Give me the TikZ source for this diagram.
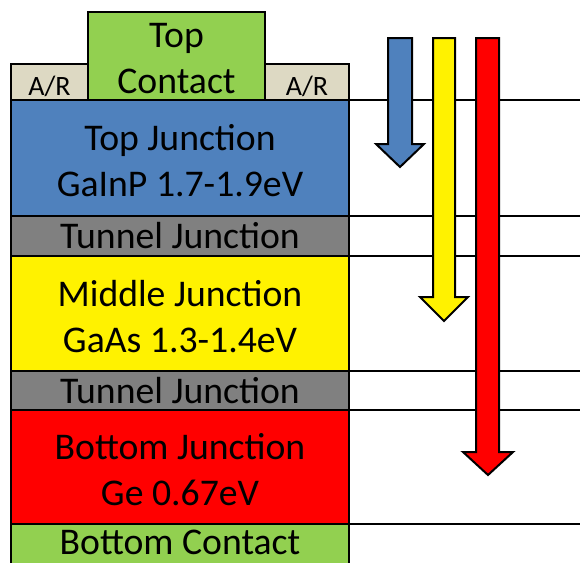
\documentclass[tikz,border=0pt]{standalone}
\usepackage{fontspec}
\setmainfont{Carlito}
\usetikzlibrary{positioning}
\definecolor{JunctionBlue}{RGB}{79,129,189}
\definecolor{ContactGreen}{RGB}{146,208,80}
\definecolor{CoatingTan}{RGB}{221,217,195}
\definecolor{TunnelGray}{RGB}{128,128,128}
\tikzset{
  layer/.style={draw, line width=2.5pt, minimum width=338pt, inner sep=0pt, outer sep=0pt},
  captext/.style={font=\fontsize{37.7}{46}\selectfont, align=center, inner sep=0pt},
  caption/.style 2 args={label={[captext, yshift=#1]center:#2}},
  coating/.style={draw, line width=2.5pt, fill=CoatingTan, minimum height=36pt, inner sep=0pt,
    outer sep=0pt, text depth=0pt, font=\fontsize{28}{30}\selectfont},
  boundary/.style={line width=2pt},
  photon/.style={draw, line width=2pt, line join=miter}
}

\begin{document}
\begin{tikzpicture}[x=1pt,y=-1pt]
\useasboundingbox (0,0) rectangle (580,562);
\coordinate (edge) at (580,0);

% cell stack
\node[layer, fill=JunctionBlue, minimum height=116pt, anchor=north west,
  caption={-3pt}{Top Junction\\GaInP 1.7-1.9eV}] (top) at (11,100) {};
\node[layer, fill=TunnelGray, minimum height=40pt, below=0pt of top,
  caption={0pt}{Tunnel Junction}] (tunnelA) {};
\node[layer, fill=yellow, minimum height=115pt, below=0pt of tunnelA,
  caption={-3pt}{Middle Junction\\GaAs 1.3-1.4eV}] (middle) {};
\node[layer, fill=TunnelGray, minimum height=39pt, below=0pt of middle,
  caption={0pt}{Tunnel Junction}] (tunnelB) {};
\node[layer, fill=red, minimum height=114pt, below=0pt of tunnelB,
  caption={-3pt}{Bottom Junction\\Ge 0.67eV}] (bottom) {};
\node[layer, fill=ContactGreen, minimum height=40pt, below=0pt of bottom,
  caption={2pt}{Bottom Contact}] (base) {};

% contact and anti-reflection coating
\node[layer, fill=ContactGreen, minimum width=177pt, minimum height=88pt, anchor=south west,
  caption={-3pt}{Top\\Contact}] (contact) at (88,100) {};
\node[coating, minimum width=77pt, anchor=south east] (arL) at (contact.south west) {\raisebox{-8pt}{A/R}};
\node[coating, minimum width=84pt, anchor=south west] (arR) at (contact.south east) {\raisebox{-8pt}{A/R}};

% layer boundaries
\draw[boundary] (top.north east) -- (top.north east -| edge);
\draw[boundary] (top.south east) -- (top.south east -| edge);
\draw[boundary] (tunnelA.south east) -- (tunnelA.south east -| edge);
\draw[boundary] (middle.south east) -- (middle.south east -| edge);
\draw[boundary] (tunnelB.south east) -- (tunnelB.south east -| edge);
\draw[boundary] (bottom.south east) -- (bottom.south east -| edge);

% light penetration
\filldraw[photon, fill=JunctionBlue] (388,38) -- (412,38) -- (412,144) -- (424,144) -- (400,167) -- (376,144) -- (388,144) -- cycle;
\filldraw[photon, fill=yellow] (433,38) -- (455,38) -- (455,297) -- (468,297) -- (444,321) -- (420,297) -- (433,297) -- cycle;
\filldraw[photon, fill=red] (476,38) -- (499,38) -- (499,452) -- (513,452) -- (488,475) -- (463,452) -- (476,452) -- cycle;
\end{tikzpicture}
\end{document}
